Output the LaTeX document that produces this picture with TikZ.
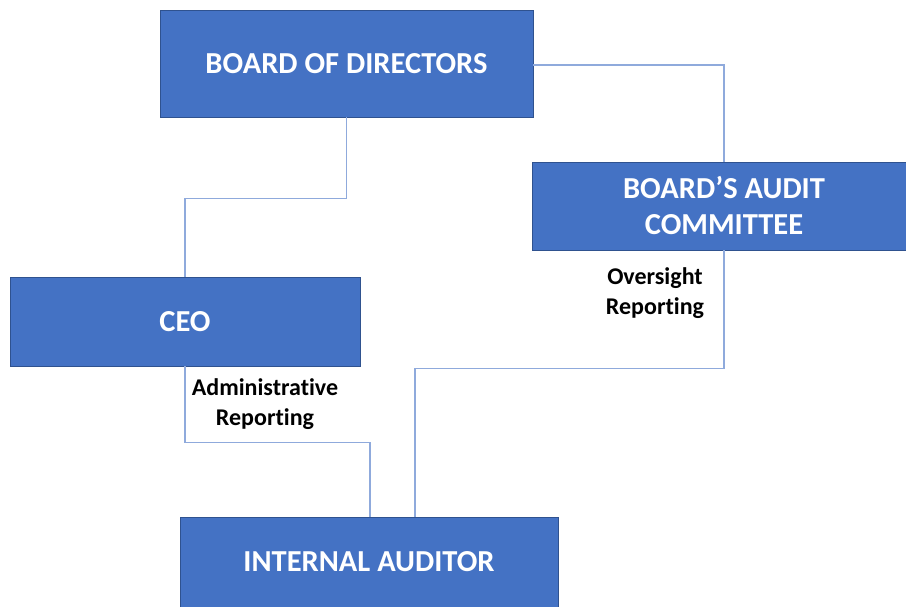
\documentclass[tikz,border=0pt]{standalone}
\usepackage{fontspec}
\setmainfont[Ligatures=CommonOff]{Carlito}
\begin{document}
\definecolor{boxfill}{HTML}{4472C4}
\definecolor{boxedge}{HTML}{2F528F}
\definecolor{linkcol}{HTML}{8FAADC}
\begin{tikzpicture}[x=1pt,y=-1pt,
  orgbox/.style={draw=boxedge,line width=0.8pt,fill=boxfill,text=white,
    font=\fontsize{30.5}{36}\selectfont\bfseries,align=center,inner sep=0pt},
  link/.style={draw=linkcol,line width=1.1pt},
  tag/.style={font=\fontsize{24}{29.5}\selectfont\bfseries,align=center,text=black}]
\useasboundingbox (0,0) rectangle (906,606);
\fill[white] (0,0) rectangle (906,606);
\begin{scope}
\clip (0,0) rectangle (906,606);
% organisation boxes
\node[orgbox,minimum width=373pt,minimum height=107pt] (bod) at (346.5,63.5) {BOARD OF DIRECTORS};
\node[orgbox,minimum width=384pt,minimum height=88pt] (aud) at (724,206) {BOARD’S AUDIT\\COMMITTEE};
\node[orgbox,minimum width=350pt,minimum height=89pt] (ceo) at (185,321.5) {CEO};
\node[orgbox,minimum width=378pt,minimum height=110pt] (ia) at (369,572) {};
\node[text=white,font=\fontsize{30.5}{36}\selectfont\bfseries] (iatext) at (369,562) {INTERNAL AUDITOR};
\end{scope}
% reporting lines
\draw[link] (bod.south) -- ++(0,81) -| (ceo.north);
\draw[link] (bod.east |- 0,65) -| (aud.north);
\draw[link] (aud.south) -- ++(0,118) -| ([xshift=46pt]ia.north);
\draw[link] (ceo.south) -- ++(0,76) -| ([xshift=1pt]ia.north);
% line labels
\node[tag] (over) at (655,293) {Oversight\\Reporting};
\node[tag] (admin) at (265,404) {Administrative\\Reporting};
\end{tikzpicture}
\end{document}
